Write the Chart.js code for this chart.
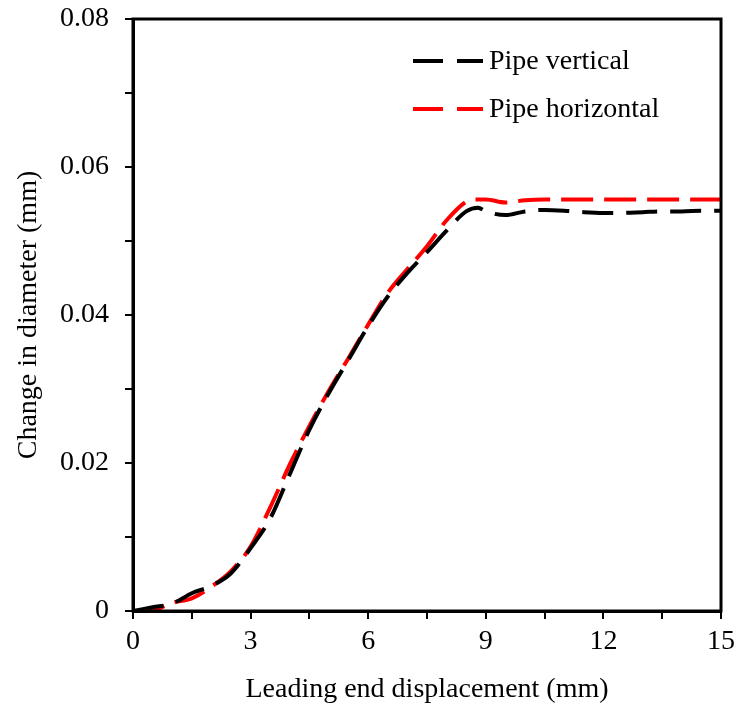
<!DOCTYPE html>
<html>
<head>
<meta charset="utf-8">
<script src="https://cdn.jsdelivr.net/npm/chart.js@4/dist/chart.umd.min.js"></script>
<style>
  html, body { margin: 0; padding: 0; background: #fff; }
  #wrap { width: 738px; height: 711px; }
</style>
</head>
<body>
<div id="wrap"><canvas id="diamChart" width="738" height="711"></canvas></div>
<script>
// displacement values (mm)
const xVals = [0, 0.5, 1, 1.5, 2, 2.5, 3, 3.5, 4, 4.5, 5, 5.5, 6, 6.5, 7, 7.5, 8, 8.5, 8.8, 9, 9.5, 10, 10.5, 11, 11.5, 12, 12.5, 13, 13.5, 14, 14.5, 15];

// change in diameter (mm)
const pipeVertical = [0, 0.0005, 0.001, 0.0024, 0.0034, 0.0051, 0.0085, 0.0125, 0.0185, 0.0245, 0.0295, 0.034, 0.0385, 0.0425, 0.0457, 0.0485, 0.0514, 0.054, 0.0545, 0.054, 0.0535, 0.054, 0.0542, 0.0541, 0.0539, 0.0538, 0.0538, 0.0539, 0.054, 0.054, 0.0541, 0.0541];
const pipeHorizontal = [0, 0.0001, 0.0011, 0.0017, 0.0033, 0.0054, 0.0087, 0.014, 0.0198, 0.025, 0.0298, 0.0342, 0.0387, 0.043, 0.0462, 0.0493, 0.0528, 0.0553, 0.0556, 0.0556, 0.0552, 0.0555, 0.0556, 0.0556, 0.0556, 0.0556, 0.0556, 0.0556, 0.0556, 0.0556, 0.0556, 0.0556];

const seriesNames = ['Pipe vertical', 'Pipe horizontal'];
const seriesColors = ['#000000', '#ff0000'];

const FONT = 'Liberation Serif';

function toPoints(ys) {
    return xVals.map((x, i) => ({ x: x, y: ys[i] }));
}

// frame round the plot area plus a legend with dashed samples
const framePlugin = {
    id: 'frame',
    afterDraw(chart) {
        const a = chart.chartArea;
        const ctx = chart.ctx;
        ctx.save();
        ctx.strokeStyle = '#000';
        ctx.lineWidth = 3;
        ctx.strokeRect(a.left, a.top, a.right - a.left, a.bottom - a.top);

        // legend
        const rows = [61, 109];
        ctx.lineWidth = 4;
        ctx.setLineDash([30, 14]);
        ctx.font = '28px "' + FONT + '"';
        ctx.textBaseline = 'middle';
        seriesNames.forEach((name, i) => {
            ctx.strokeStyle = seriesColors[i];
            ctx.beginPath();
            ctx.moveTo(413, rows[i]);
            ctx.lineTo(483, rows[i]);
            ctx.stroke();
            ctx.fillStyle = '#000';
            ctx.fillText(name, 489, rows[i] + 1);
        });
        ctx.restore();
    }
};

new Chart(document.getElementById('diamChart').getContext('2d'), {
    type: 'line',
    data: {
        datasets: [{
            label: seriesNames[0],
            data: toPoints(pipeVertical),
            borderColor: seriesColors[0],
            borderWidth: 4,
            borderDash: [31, 13],
            pointRadius: 0,
            fill: false,
            cubicInterpolationMode: 'monotone'
        }, {
            label: seriesNames[1],
            data: toPoints(pipeHorizontal),
            borderColor: seriesColors[1],
            borderWidth: 4,
            borderDash: [32, 11],
            pointRadius: 0,
            fill: false,
            cubicInterpolationMode: 'monotone'
        }]
    },
    options: {
        responsive: false,
        animation: false,
        layout: { padding: { top: 19, right: 17, left: 0, bottom: 0 } },
        plugins: {
            legend: { display: false },
            tooltip: { enabled: false }
        },
        scales: {
            x: {
                type: 'linear',
                min: 0,
                max: 15,
                afterFit: function(scale) {
                    scale.height = 100;
                    scale.paddingLeft = 0;
                    scale.paddingRight = 0;
                },
                border: { display: true, color: '#000', width: 3 },
                grid: { drawOnChartArea: false, drawTicks: true, tickLength: 8, color: '#000', lineWidth: 2 },
                ticks: {
                    stepSize: 1.5,
                    autoSkip: false,
                    maxRotation: 0,
                    padding: 6,
                    color: '#000',
                    font: { family: FONT, size: 28 },
                    callback: function(v) {
                        return Math.abs(v % 3) < 1e-9 ? String(v) : '';
                    }
                },
                title: {
                    display: true,
                    text: 'Leading end displacement (mm)',
                    color: '#000',
                    font: { family: FONT, size: 28 },
                    padding: { top: 5, bottom: 5 }
                }
            },
            y: {
                min: 0,
                max: 0.08,
                afterFit: function(scale) {
                    scale.width = 133;
                    scale.paddingTop = 0;
                    scale.paddingBottom = 0;
                },
                border: { display: true, color: '#000', width: 3 },
                grid: { drawOnChartArea: false, drawTicks: true, tickLength: 8, color: '#000', lineWidth: 2 },
                ticks: {
                    stepSize: 0.01,
                    autoSkip: false,
                    padding: 16,
                    color: '#000',
                    font: { family: FONT, size: 28 },
                    callback: function(v) {
                        const n = Math.round(v * 100);
                        if (n % 2 !== 0) return '';
                        return n === 0 ? '0' : (n / 100).toFixed(2);
                    }
                },
                title: {
                    display: true,
                    text: 'Change in diameter (mm)',
                    color: '#000',
                    font: { family: FONT, size: 28 },
                    padding: { top: 12, bottom: 12 }
                }
            }
        }
    },
    plugins: [framePlugin]
});
</script>
</body>
</html>
